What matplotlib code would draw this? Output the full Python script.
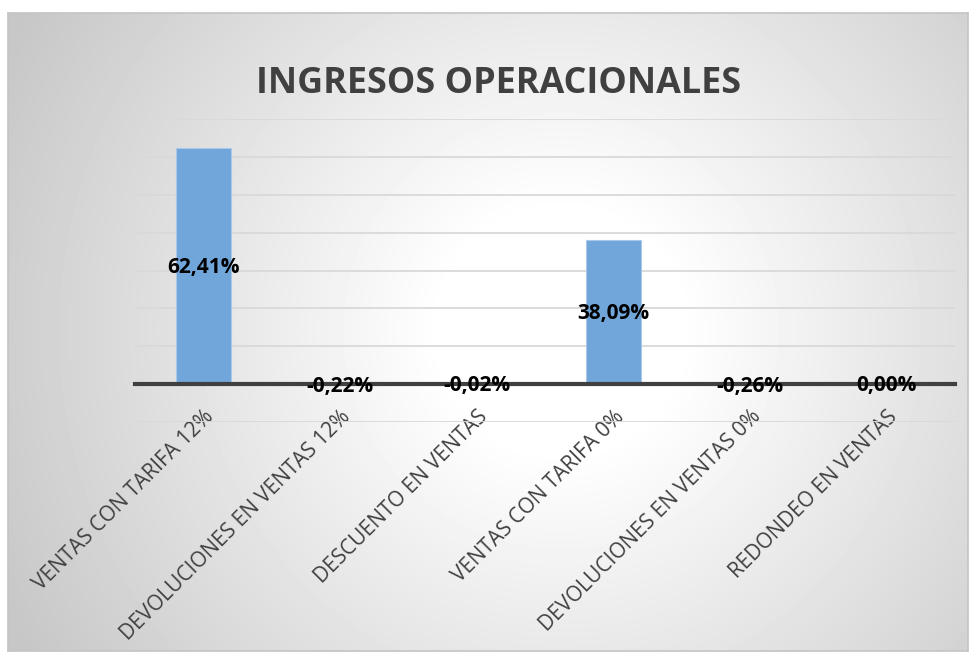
import numpy as np
import matplotlib
matplotlib.use('Agg')
import matplotlib.pyplot as plt

# Categories and percentages
categories = ['VENTAS CON TARIFA 12%', 'DEVOLUCIONES EN VENTAS 12%', 'DESCUENTO EN VENTAS',
              'VENTAS CON TARIFA 0%', 'DEVOLUCIONES EN VENTAS 0%', 'REDONDEO EN VENTAS']
values = [62.41, -0.22, -0.02, 38.09, -0.26, 0.00]
title = 'INGRESOS OPERACIONALES'

plt.rcParams['font.family'] = ['Open Sans', 'DejaVu Sans']

W, H = 972, 654
fig = plt.figure(figsize=(W / 100, H / 100), dpi=100)
fig.patch.set_facecolor('white')

# chart area with radial gradient background (pixel distance from a centre point)
x0, x1, y0, y1 = 8, 968, 13, 651
bg = fig.add_axes([x0 / W, 1 - y1 / H, (x1 - x0) / W, (y1 - y0) / H])
py, px = np.mgrid[y0:y1:2, x0:x1:2]
dist = np.hypot(px - 560, py - 330)
shade = 1 - 0.22 * np.clip((dist - 120) / 500, 0, 1)
bg.imshow(shade, cmap='gray', vmin=0, vmax=1, aspect='auto', extent=[0, 1, 1, 0])
bg.set_xticks([])
bg.set_yticks([])
for s in bg.spines.values():
    s.set_color('#c4c4c4')
    s.set_linewidth(1.2)
bg.set_zorder(0)

# plot area
ax = fig.add_axes([135 / W, 1 - 422 / H, (955 - 135) / W, (422 - 119) / H])
ax.set_zorder(1)
ax.patch.set_alpha(0)
x = np.arange(len(categories))
ax.bar(x, values, width=0.4, color='#70a6da', edgecolor='#a9c9ea', linewidth=0.8, zorder=3)

ax.set_xlim(-0.5, len(categories) - 0.5)
ax.set_ylim(-10, 70)
ax.set_yticks(np.arange(-10, 71, 10))
ax.yaxis.grid(True, color='#d9d9d9', linewidth=1.3, zorder=0)
ax.tick_params(axis='y', length=0, labelleft=False)
for side in ['left', 'right', 'top']:
    ax.spines[side].set_visible(False)
ax.spines['bottom'].set_position(('data', 0))
ax.spines['bottom'].set_color('#404040')
ax.spines['bottom'].set_linewidth(3)
ax.spines['bottom'].set_zorder(4)

ax.set_xticks(x)
ax.set_xticklabels(categories, rotation=45, ha='right', rotation_mode='anchor',
                   fontsize=15, color='#404040')
ax.tick_params(axis='x', length=0, pad=16)

# value labels centred in each bar
for xi, v in zip(x, values):
    txt = f'{v:.2f}%'.replace('.', ',')
    ax.text(xi, v / 2 - 0.4, txt, ha='center', va='center', fontsize=15,
            fontweight='bold', color='black', zorder=5)

fig.text(498 / W, 1 - 84 / H, title, ha='center', va='center', fontsize=25.8,
         fontweight='bold', color='#404040')

fig.savefig('out.png', dpi=100)
